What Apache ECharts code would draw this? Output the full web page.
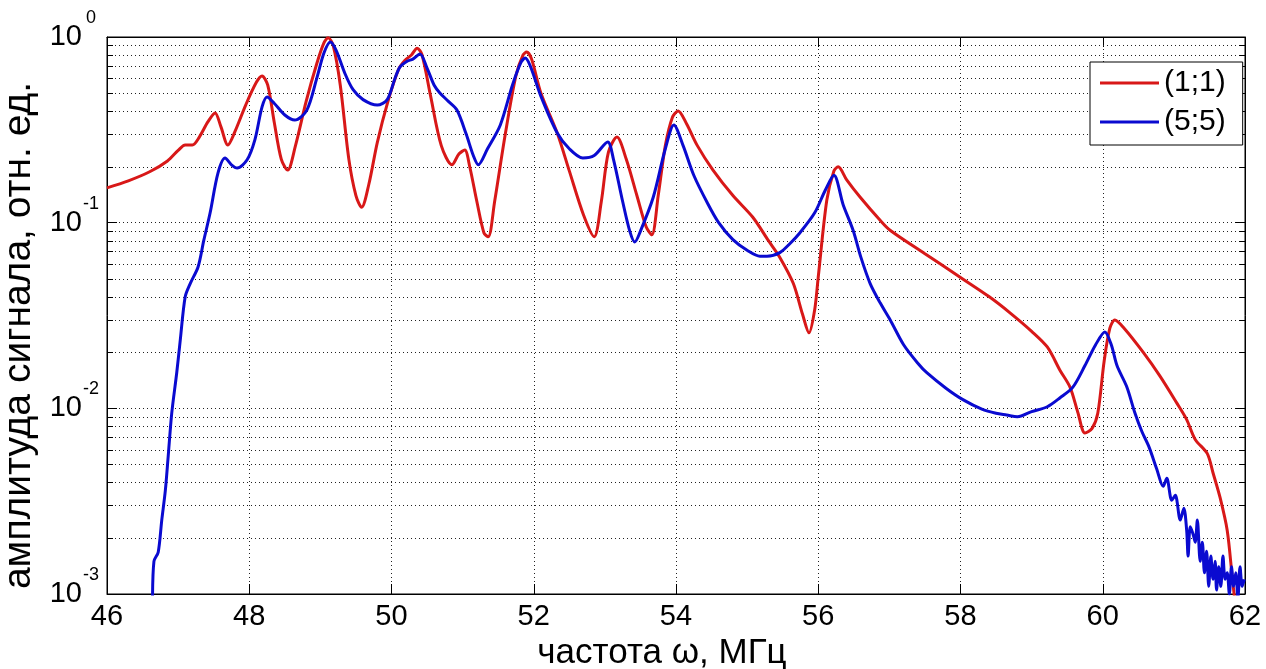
<!DOCTYPE html>
<html>
<head>
<meta charset="utf-8">
<script src="https://cdn.jsdelivr.net/npm/echarts@6/dist/echarts.min.js"></script>
<style>
html,body{margin:0;padding:0;background:#fff;}
#chart{width:1266px;height:669px;}
</style>
</head>
<body>
<div id="chart"></div>
<script>
// ---- data ----
const xTicks = [46, 48, 50, 52, 54, 56, 58, 60, 62];
const seriesNames = ['(1;1)', '(5;5)'];

const redX = [46.0,46.3,46.6,46.85,47.0,47.1,47.2,47.3,47.42,47.52,47.6,47.7,47.8,47.95,48.1,48.18,48.26,48.35,48.45,48.54,48.65,48.8,48.95,49.05,49.11,49.18,49.28,49.4,49.5,49.58,49.68,49.8,49.95,50.1,50.19,50.28,50.36,50.43,50.55,50.7,50.85,50.95,51.03,51.1,51.2,51.3,51.36,51.45,51.6,51.75,51.85,51.9,51.97,52.1,52.33,52.5,52.7,52.85,52.95,53.05,53.17,53.3,53.45,53.58,53.66,53.75,53.85,53.95,54.03,54.15,54.3,54.52,54.8,55.08,55.3,55.46,55.65,55.78,55.87,55.95,56.0,56.12,56.22,56.28,56.4,56.59,56.87,57.01,57.5,57.99,58.4,58.7,59.0,59.22,59.4,59.54,59.65,59.75,59.85,59.93,60.02,60.1,60.17,60.3,60.57,60.8,61.04,61.18,61.3,61.47,61.55,61.65,61.75,61.82,61.86];
const redY = [0.154,0.168,0.188,0.215,0.245,0.262,0.262,0.29,0.35,0.39,0.33,0.262,0.31,0.43,0.57,0.617,0.55,0.35,0.22,0.192,0.26,0.45,0.72,0.93,0.99,0.9,0.55,0.22,0.14,0.121,0.16,0.27,0.45,0.67,0.75,0.8,0.87,0.8,0.48,0.26,0.205,0.235,0.246,0.2,0.13,0.088,0.084,0.13,0.3,0.62,0.8,0.83,0.76,0.5,0.304,0.19,0.11,0.084,0.13,0.24,0.289,0.22,0.14,0.095,0.086,0.14,0.26,0.37,0.40,0.34,0.26,0.192,0.14,0.107,0.08,0.065,0.047,0.032,0.0255,0.034,0.051,0.132,0.19,0.20,0.17,0.137,0.103,0.091,0.068,0.051,0.04,0.0326,0.026,0.0214,0.016,0.013,0.0095,0.00736,0.0078,0.0094,0.018,0.027,0.0299,0.027,0.02,0.015,0.0107,0.0087,0.0068,0.0057,0.0045,0.0033,0.0022,0.00124,0.0009];

const blueX = [46.64,46.66,46.72,46.77,46.82,46.86,46.91,46.98,47.03,47.10,47.17,47.28,47.36,47.45,47.56,47.66,47.75,47.83,47.97,48.08,48.18,48.25,48.35,48.5,48.64,48.81,48.95,49.05,49.14,49.22,49.35,49.46,49.6,49.8,49.94,50.05,50.12,50.22,50.3,50.40,50.5,50.6,50.68,50.8,50.92,51.05,51.15,51.22,51.35,51.53,51.7,51.82,51.88,51.95,52.1,52.33,52.5,52.69,52.85,53.04,53.12,53.25,53.35,53.42,53.5,53.68,53.85,53.97,54.1,54.25,54.44,54.6,54.8,55.0,55.18,55.28,55.46,55.6,55.74,55.95,56.1,56.22,56.35,56.49,56.6,56.73,56.87,57.01,57.2,57.4,57.53,57.8,58.04,58.3,58.5,58.65,58.8,59.0,59.22,59.4,59.58,59.75,59.9,60.03,60.12,60.2,60.34,60.45,60.55,60.65,60.76,60.85,60.9,60.97,61.02,61.09,61.14,61.18,61.2,61.23,61.27,61.3,61.33,61.37,61.4,61.43,61.46,61.49,61.52,61.55,61.58,61.6,61.63,61.66,61.69,61.72,61.75,61.78,61.81,61.84,61.87,61.9,61.93,61.96,61.99];
const blueY = [0.0009,0.0015,0.00168,0.0025,0.0036,0.0055,0.0094,0.0155,0.0233,0.04,0.047,0.0577,0.08,0.113,0.185,0.223,0.205,0.197,0.218,0.28,0.42,0.475,0.44,0.38,0.357,0.404,0.6,0.82,0.94,0.85,0.63,0.52,0.46,0.43,0.46,0.6,0.69,0.74,0.76,0.81,0.68,0.55,0.50,0.45,0.404,0.3,0.23,0.205,0.25,0.336,0.55,0.73,0.77,0.7,0.48,0.304,0.25,0.223,0.23,0.272,0.22,0.13,0.09,0.0787,0.09,0.137,0.25,0.336,0.26,0.18,0.128,0.1,0.081,0.071,0.066,0.066,0.069,0.077,0.088,0.113,0.15,0.18,0.125,0.091,0.065,0.047,0.037,0.03,0.022,0.0175,0.0155,0.0128,0.0111,0.0099,0.0094,0.0092,0.009,0.0096,0.0102,0.0114,0.013,0.017,0.022,0.0258,0.022,0.017,0.013,0.0095,0.0075,0.0062,0.0047,0.0038,0.0042,0.0032,0.0034,0.0025,0.0029,0.0022,0.0016,0.0023,0.0021,0.0019,0.0025,0.0015,0.0019,0.0013,0.0017,0.0011,0.0016,0.0012,0.0015,0.00105,0.0014,0.0011,0.0016,0.0012,0.0013,0.001,0.0014,0.0011,0.0013,0.00095,0.0014,0.0011,0.0012];

const minorY = [0.002,0.003,0.004,0.005,0.006,0.007,0.008,0.009,
                0.02,0.03,0.04,0.05,0.06,0.07,0.08,0.09,
                0.2,0.3,0.4,0.5,0.6,0.7,0.8,0.9];

// ---- chart ----
const FONT = 'Liberation Sans, Arial, sans-serif';
const zip = (xs, ys) => xs.map((x, i) => [x, ys[i]]);
const chart = echarts.init(document.getElementById('chart'), null, {renderer: 'canvas'});

const dotted = {color: '#222', width: 1, type: [1, 3]};

const option = {
  animation: false,
  backgroundColor: '#fff',
  grid: {
    left: 107, right: 21, top: 37, bottom: 75,
    show: true, borderColor: '#000', borderWidth: 1, backgroundColor: '#fff',
    containLabel: false, outerBoundsMode: 'none'
  },
  legend: {
    data: seriesNames,
    orient: 'vertical',
    left: 1090, top: 62,
    padding: [6, 17, 8, 10],
    itemGap: 9,
    itemWidth: 59, itemHeight: 3,
    icon: 'rect',
    backgroundColor: '#fff',
    borderColor: '#000', borderWidth: 1, borderRadius: 0,
    textStyle: {fontFamily: FONT, fontSize: 30, color: '#000', lineHeight: 30}
  },
  xAxis: [{
    type: 'value', min: xTicks[0], max: xTicks[xTicks.length - 1], interval: 2,
    name: 'частота ω, МГц', nameLocation: 'middle', nameGap: 37,
    nameTextStyle: {fontFamily: FONT, fontSize: 35, color: '#000', padding: [0, 28, 0, 0]},
    axisLine: {show: true, lineStyle: {color: '#000', width: 1}},
    axisTick: {show: true, inside: true, length: 10, lineStyle: {color: '#000'}},
    axisLabel: {show: true, fontFamily: FONT, fontSize: 29, color: '#000', margin: 8,
                showMinLabel: true, showMaxLabel: true},
    splitLine: {show: true, lineStyle: dotted}
  }, {
    type: 'value', position: 'top', min: xTicks[0], max: xTicks[xTicks.length - 1], interval: 2,
    axisLine: {show: true, lineStyle: {color: '#000', width: 1}},
    axisTick: {show: true, inside: true, length: 10, lineStyle: {color: '#000'}},
    axisLabel: {show: false}, splitLine: {show: false}
  }],
  yAxis: [{
    type: 'log', logBase: 10, min: 0.001, max: 1,
    name: 'амплитуда сигнала, отн. ед.', nameLocation: 'middle', nameGap: 65,
    nameTextStyle: {fontFamily: FONT, fontSize: 39, color: '#000', padding: [0, 40, 0, 0]},
    axisLine: {show: true, lineStyle: {color: '#000', width: 1}},
    axisTick: {show: true, inside: true, length: 10, lineStyle: {color: '#000'}},
    axisLabel: {
      show: true, margin: 7,
      formatter: v => '{b|10}{s|' + Math.round(Math.log10(v)) + '}',
      rich: {
        b: {fontFamily: FONT, fontSize: 29, color: '#000', lineHeight: 56},
        s: {fontFamily: FONT, fontSize: 18, color: '#000', lineHeight: 18, verticalAlign: 'top', width: 18, align: 'left'}
      }
    },
    splitLine: {show: true, lineStyle: dotted}
  }, {
    type: 'log', logBase: 10, min: 0.001, max: 1, position: 'right',
    axisLine: {show: true, lineStyle: {color: '#000', width: 1}},
    axisTick: {show: true, inside: true, length: 10, lineStyle: {color: '#000'}},
    axisLabel: {show: false}, splitLine: {show: false}
  }],
  series: [
    {
      type: 'custom', name: 'minorGrid', xAxisIndex: 0, yAxisIndex: 0, z: 1, silent: true,
      data: minorY.map(v => [xTicks[0], v]),
      renderItem: (params, api) => {
        const v = api.value(1);
        const a = api.coord([xTicks[0], v]);
        const b = api.coord([xTicks[xTicks.length - 1], v]);
        const y = Math.round(a[1]) + 0.5;
        return {type: 'group', children: [
          {type: 'line', shape: {x1: a[0], y1: y, x2: b[0], y2: y}, style: {stroke: '#222', lineWidth: 1, lineDash: [1, 3]}},
          {type: 'line', shape: {x1: a[0], y1: y, x2: a[0] + 6, y2: y}, style: {stroke: '#000', lineWidth: 1}},
          {type: 'line', shape: {x1: b[0] - 6, y1: y, x2: b[0], y2: y}, style: {stroke: '#000', lineWidth: 1}}
        ]};
      }
    },
    {
      type: 'line', name: seriesNames[0], data: zip(redX, redY), z: 3,
      showSymbol: false, smooth: 0.3, clip: true,
      lineStyle: {color: '#d81818', width: 3}, itemStyle: {color: '#d81818'}
    },
    {
      type: 'line', name: seriesNames[1], data: zip(blueX, blueY), z: 4,
      showSymbol: false, smooth: 0.3, clip: true,
      lineStyle: {color: '#0a0ad0', width: 3}, itemStyle: {color: '#0a0ad0'}
    }
  ]
};
chart.setOption(option);
</script>
</body>
</html>
